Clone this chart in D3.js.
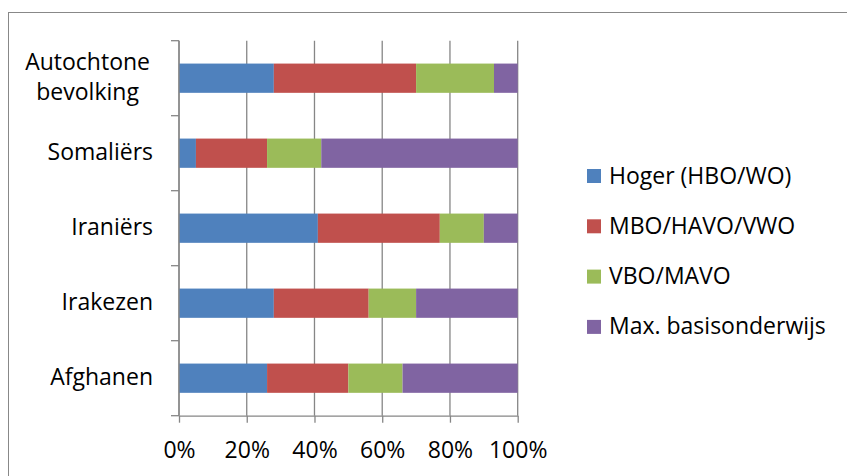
<!DOCTYPE html>
<html>
<head>
<meta charset="utf-8">
<script src="https://cdn.jsdelivr.net/npm/d3@7"></script>
<style>
  body { margin: 0; background: #fff; }
  svg text { font-family: "Open Sans", Lato, sans-serif; fill: #000; }
</style>
</head>
<body>
<div id="grafiek"></div>
<script>
// Gegevens
const categories = ['Autochtone bevolking', 'Somaliërs', 'Iraniërs', 'Irakezen', 'Afghanen'];
const seriesNames = ['Hoger (HBO/WO)', 'MBO/HAVO/VWO', 'VBO/MAVO', 'Max. basisonderwijs'];
const hoger = [28, 5, 41, 28, 26];
const mbo = [42, 21, 36, 28, 24];
const vbo = [23, 16, 13, 14, 16];
const basis = [7, 58, 10, 30, 34];
const xTicks = [0, 0.2, 0.4, 0.6, 0.8, 1];
const colors = ['#4F81BD', '#C0504D', '#9BBB59', '#8064A2'];

const W = 847, H = 476;
const margin = { top: 40.7, left: 179 },
  width = 338.7,
  height = 375;
const fontSize = 23;

const svg = d3.select('#grafiek')
  .append('svg')
  .attr('width', W)
  .attr('height', H);

// kader om de grafiek
svg.append('rect')
  .attr('x', 8.5).attr('y', 12.5)
  .attr('width', W + 20).attr('height', H + 20)
  .attr('fill', 'none')
  .attr('stroke', '#888')
  .attr('stroke-width', 1);

const g = svg.append('g')
  .attr('transform', `translate(${margin.left}, ${margin.top})`);

// tabel voor stack
const table = categories.map((c, i) => ({
  cat: c, s0: hoger[i], s1: mbo[i], s2: vbo[i], s3: basis[i]
}));
const keys = ['s0', 's1', 's2', 's3'];
const stacked = d3.stack().keys(keys)
  .offset(d3.stackOffsetExpand)(table);

const x = d3.scaleLinear().domain([0, 1]).range([0, width]);
const y = d3.scaleBand().domain(categories).range([0, height])
  .paddingInner(0.61).paddingOuter(0.305);

// rasterlijnen
g.append('g')
  .selectAll('line')
  .data(xTicks)
  .join('line')
  .attr('x1', d => x(d)).attr('x2', d => x(d))
  .attr('y1', 0).attr('y2', height)
  .attr('stroke', '#868686')
  .attr('stroke-width', 1.3);

// balken
g.append('g')
  .selectAll('g')
  .data(stacked)
  .join('g')
  .attr('fill', (d, i) => colors[i])
  .selectAll('rect')
  .data(d => d)
  .join('rect')
  .attr('x', d => x(d[0]))
  .attr('width', d => x(d[1]) - x(d[0]))
  .attr('y', d => y(d.data.cat))
  .attr('height', y.bandwidth());

// x-as
const xAxis = g.append('g')
  .attr('transform', `translate(0, ${height})`)
  .call(d3.axisBottom(x).tickValues(xTicks).tickFormat(d3.format('.0%'))
    .tickSize(7).tickSizeOuter(0).tickPadding(19));
xAxis.select('.domain').attr('stroke', '#868686').attr('stroke-width', 1.3);
xAxis.selectAll('.tick line').attr('stroke', '#868686').attr('stroke-width', 1.3);
xAxis.selectAll('text').attr('font-size', fontSize).attr('font-family', '"Open Sans"');

// y-as met streepjes tussen de categorieën
const step = y.step();
const yEdges = d3.range(categories.length + 1).map(i => i * step);
const yAxis = g.append('g');
yAxis.append('line')
  .attr('x1', 0).attr('x2', 0).attr('y1', 0).attr('y2', height)
  .attr('stroke', '#868686').attr('stroke-width', 1.3);
yAxis.selectAll('.ytick')
  .data(yEdges)
  .join('line')
  .attr('class', 'ytick')
  .attr('x1', -8).attr('x2', 0)
  .attr('y1', d => d).attr('y2', d => d)
  .attr('stroke', '#868686').attr('stroke-width', 1.3);

// categorielabels
categories.forEach(c => {
  const cy = y(c) + y.bandwidth() / 2;
  const words = c === 'Autochtone bevolking' ? ['Autochtone', 'bevolking'] : [c];
  const t = yAxis.append('text')
    .attr('font-size', fontSize);
  if (words.length === 1) {
    t.attr('x', -26).attr('y', cy + 7).attr('text-anchor', 'end').text(c);
  } else {
    words.forEach((w, i) => {
      t.append('tspan').attr('x', 0).attr('y', cy - 8 + i * 29.5).text(w);
    });
    const maxW = d3.max(t.selectAll('tspan').nodes(), n => n.getComputedTextLength());
    t.attr('text-anchor', 'middle');
    t.selectAll('tspan').attr('x', -29 - maxW / 2);
  }
});

// legenda
const legend = svg.append('g')
  .attr('transform', 'translate(587, 169)');
const items = legend.selectAll('g')
  .data(seriesNames)
  .join('g')
  .attr('transform', (d, i) => `translate(0, ${i * 50.3})`);
items.append('rect')
  .attr('width', 14).attr('height', 14)
  .attr('fill', (d, i) => colors[i]);
items.append('text')
  .attr('x', 22).attr('y', 14.5)
  .attr('font-size', fontSize)
  .text(d => d);
</script>
</body>
</html>
